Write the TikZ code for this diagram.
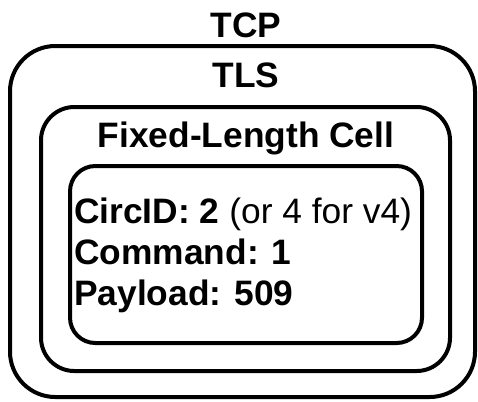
\documentclass[tikz,border=0pt]{standalone}
\usepackage{fontspec}
\setmainfont{Liberation Sans}
\usetikzlibrary{positioning}

\begin{document}
\begin{tikzpicture}[x=0.75pt,y=-0.75pt,every node/.style={font=\fontsize{26.5}{31}\selectfont}]
  \tikzset{
    layer/.style={draw,line width=3pt,rectangle,inner sep=0pt},
    title/.style={font=\fontsize{26.5}{31}\selectfont\bfseries,inner sep=0pt,anchor=base},
    field/.style={inner sep=0pt,anchor=base west}
  }
  \useasboundingbox (0,0) rectangle (478,401);
  % nested layers
  \node[layer,rounded corners=34pt,minimum width=348.75pt,minimum height=263.25pt] (tcp) at (242.5,221.5) {};
  \node[layer,rounded corners=25pt,minimum width=306.75pt,minimum height=198pt] (tls) at (245.5,239) {};
  \node[layer,rounded corners=19pt,minimum width=264pt,minimum height=132.75pt] (cell) at (246,254.5) {};
  % titles
  \node[title] (tcplbl) at (246,37) {TCP};
  \node[title] (tlslbl) at (246,87) {TLS};
  \node[title] (celllbl) at (246,147) {Fixed-Length Cell};
  % cell fields
  \node[field] (circid) at (74,223) {\textbf{CircID: 2} (or 4 for v4)};
  \node[field] (cmd) at (74,264) {\textbf{Command: 1}};
  \node[field] (payload) at (74,305) {\textbf{Payload: 509}};
\end{tikzpicture}
\end{document}
